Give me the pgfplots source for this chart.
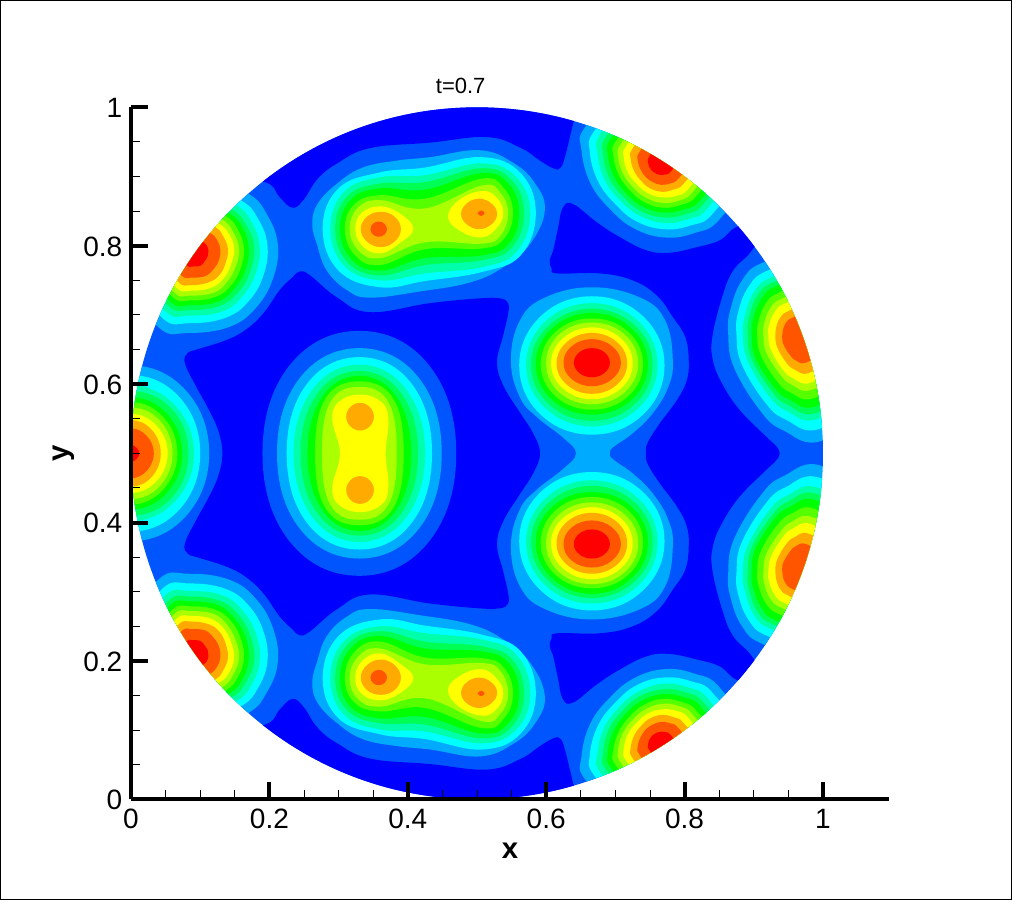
\documentclass[border=0pt]{standalone}
\usepackage{pgfplots}
\pgfplotsset{compat=1.18}
\usepackage{fontspec}
\setmainfont{Liberation Sans}
\definecolor{c0}{RGB}{0,0,255}
\definecolor{c1}{RGB}{0,85,255}
\definecolor{c2}{RGB}{0,170,255}
\definecolor{c3}{RGB}{0,255,255}
\definecolor{c4}{RGB}{0,255,170}
\definecolor{c5}{RGB}{0,255,85}
\definecolor{c6}{RGB}{0,255,0}
\definecolor{c7}{RGB}{85,255,0}
\definecolor{c8}{RGB}{170,255,0}
\definecolor{c9}{RGB}{255,255,0}
\definecolor{c10}{RGB}{255,170,0}
\definecolor{c11}{RGB}{255,85,0}
\definecolor{c12}{RGB}{255,0,0}
\pgfplotsset{band/.style={fill=#1,draw=none,mark=none,smooth cycle,tension=0.7,forget plot}}
\newcommand{\blob}[2]{\addplot[band=#1] coordinates {#2};}
\newcommand{\twin}[2]{\addplot[band=#1] coordinates {#2};\addplot[band=#1,y filter/.expression={1-y}] coordinates {#2};}
\begin{document}
\begin{tikzpicture}[x=1pt,y=1pt]
\draw[black,line width=0.75pt] (0.375,0.375) rectangle (758.625,674.625);
\begin{axis}[
  at={(98.25pt,75.5pt)},anchor=origin,
  scale only axis,width=568.5pt,height=519pt,
  xmin=0,xmax=1.0954,ymin=0,ymax=1,
  axis lines=left,axis line style={-,line width=3pt},
  axis on top,
  xtick={0,0.2,0.4,0.6,0.8,1},ytick={0,0.2,0.4,0.6,0.8,1},
  minor tick num=3,
  tick align=inside,
  major tick length=13pt,minor tick length=7pt,
  every tick/.style={black},
  major tick style={line width=3pt,black},
  minor tick style={line width=0.75pt,black},
  tick label style={font=\fontsize{21}{21}\selectfont},
  xticklabel style={yshift=-4pt},
  yticklabel style={xshift=-3pt,yshift=-0.5pt},
  /pgf/number format/assume math mode=true,
  xlabel={\textbf{x}},ylabel={\textbf{y}},
  xlabel style={font=\fontsize{22}{22}\selectfont,yshift=-3.5pt},
  ylabel style={font=\fontsize{22}{22}\selectfont,yshift=0pt},
  title={t=0.7},title style={font=\fontsize{16.5}{16.5}\selectfont,yshift=1pt,xshift=-37pt},
]
\begin{scope}
\clip (axis cs:0.5,0.5) circle [radius=259.5pt];
\addplot[fill=c1,draw=none,mark=none,forget plot] coordinates {(0,0)(1,0)(1,1)(0,1)} -- cycle;
% dark pockets
\twin{c0}{(.194,.892)(.215,.870)(.233,.855)(.249,.866)(.270,.897)(.298,.919)(.345,.941)(.432,.949)(.514,.957)(.562,.942)(.591,.923)(.610,.912)(.620,.912)(.627,.928)(.639,.977)(.65,1.02)(.4,1.05)(.15,1.0)(.13,.9)}
\blob{c0}{(.132,.5)(.126,.533)(.111,.566)(.095,.595)(.078,.630)(.082,.645)(.095,.650)(.136,.663)(.165,.678)(.191,.702)(.215,.736)(.233,.754)(.244,.763)(.259,.757)(.298,.725)(.345,.704)(.432,.717)(.504,.724)(.533,.724)(.545,.717)(.545,.702)(.538,.671)(.529,.632)(.538,.598)(.562,.559)(.581,.529)(.591,.5)(.581,.471)(.562,.441)(.538,.402)(.529,.368)(.538,.329)(.545,.298)(.545,.283)(.533,.276)(.504,.276)(.432,.283)(.345,.296)(.298,.275)(.259,.243)(.244,.237)(.233,.246)(.215,.264)(.191,.298)(.165,.322)(.136,.337)(.095,.350)(.082,.355)(.078,.370)(.095,.405)(.111,.434)(.126,.467)}
\blob{c0}{(.624,.855)(.639,.860)(.673,.834)(.707,.812)(.746,.793)(.779,.790)(.818,.798)(.851,.808)(.877,.828)(.923,.838)(.897,.793)(.870,.764)(.854,.725)(.840,.668)(.841,.634)(.854,.601)(.880,.562)(.919,.523)(.935,.507)(.935,.493)(.919,.477)(.880,.438)(.854,.399)(.841,.366)(.840,.332)(.854,.275)(.870,.236)(.897,.207)(.923,.162)(.877,.172)(.851,.192)(.818,.202)(.779,.210)(.746,.207)(.707,.188)(.673,.166)(.639,.140)(.624,.145)(.617,.175)(.610,.207)(.605,.221)(.608,.233)(.616,.240)(.678,.240)(.725,.250)(.760,.272)(.783,.303)(.801,.332)(.806,.366)(.803,.395)(.789,.423)(.764,.457)(.747,.484)(.744,.5)(.747,.516)(.764,.543)(.789,.577)(.803,.605)(.806,.634)(.801,.668)(.783,.697)(.760,.728)(.725,.750)(.678,.760)(.616,.760)(.608,.767)(.605,.779)(.610,.793)(.617,.825)}
% central blob G
\blob{c1}{(.470,.5)(.431,.627)(.330,.677)(.229,.627)(.190,.5)(.229,.373)(.330,.323)(.431,.373)}
\blob{c2}{(.449,.5)(.416,.609)(.330,.652)(.244,.609)(.211,.5)(.244,.391)(.330,.348)(.416,.391)}
\blob{c3}{(.435,.5)(.406,.600)(.330,.639)(.254,.600)(.225,.5)(.254,.400)(.330,.361)(.406,.400)}
\blob{c4}{(.425,.5)(.398,.592)(.330,.628)(.262,.592)(.235,.5)(.262,.408)(.330,.372)(.398,.408)}
\blob{c5}{(.415,.5)(.391,.586)(.330,.619)(.269,.586)(.245,.5)(.269,.414)(.330,.381)(.391,.414)}
\blob{c6}{(.405,.5)(.384,.581)(.330,.612)(.276,.581)(.255,.5)(.276,.419)(.330,.388)(.384,.419)}
\blob{c7}{(.394,.5)(.379,.579)(.330,.604)(.281,.579)(.266,.5)(.281,.421)(.330,.396)(.379,.421)}
\blob{c8}{(.384,.5)(.372,.574)(.330,.596)(.288,.574)(.276,.5)(.288,.426)(.330,.404)(.372,.426)}
\blob{c9}{(.331,.585)(.362,.574)(.372,.548)(.368,.5)(.372,.452)(.362,.426)(.331,.415)(.300,.426)(.291,.452)(.302,.5)(.291,.548)(.300,.574)}
\twin{c10}{(.351,.553)(.345,.567)(.331,.573)(.317,.567)(.311,.553)(.317,.539)(.331,.533)(.345,.539)}
% left blob F
\blob{c2}{(.113,.5)(.080,.590)(0,.627)(-.080,.590)(-.113,.5)(-.080,.410)(0,.373)(.080,.410)}
\blob{c3}{(.100,.5)(.071,.580)(0,.613)(-.071,.580)(-.100,.5)(-.071,.420)(0,.387)(.071,.420)}
\blob{c4}{(.091,.5)(.064,.569)(0,.598)(-.064,.569)(-.091,.5)(-.064,.431)(0,.402)(.064,.431)}
\blob{c5}{(.083,.5)(.059,.564)(0,.590)(-.059,.564)(-.083,.5)(-.059,.436)(0,.410)(.059,.436)}
\blob{c6}{(.074,.5)(.052,.557)(0,.581)(-.052,.557)(-.074,.5)(-.052,.443)(0,.419)(.052,.443)}
\blob{c7}{(.067,.5)(.047,.552)(0,.574)(-.047,.552)(-.067,.5)(-.047,.448)(0,.426)(.047,.448)}
\blob{c8}{(.060,.5)(.042,.547)(0,.566)(-.042,.547)(-.060,.5)(-.042,.453)(0,.434)(.042,.453)}
\blob{c9}{(.053,.5)(.037,.540)(0,.557)(-.037,.540)(-.053,.5)(-.037,.460)(0,.443)(.037,.460)}
\blob{c10}{(.043,.5)(.030,.534)(0,.548)(-.030,.534)(-.043,.5)(-.030,.466)(0,.452)(.030,.466)}
\blob{c11}{(.033,.5)(.023,.525)(0,.536)(-.023,.525)(-.033,.5)(-.023,.475)(0,.464)(.023,.475)}
\blob{c12}{(.012,.5)(.008,.508)(0,.512)(-.008,.508)(-.012,.5)(-.008,.492)(0,.488)(.008,.492)}
% neck of the two centre-right blobs
\blob{c2}{(.643,.5)(.624,.523)(.587,.552)(.562,.581)(.549,.634)(.562,.692)(.598,.725)(.666,.740)(.736,.725)(.772,.692)(.783,.634)(.776,.595)(.754,.558)(.725,.529)(.697,.509)(.692,.5)(.697,.491)(.725,.471)(.754,.442)(.776,.405)(.783,.366)(.772,.308)(.736,.275)(.666,.260)(.598,.275)(.562,.308)(.549,.366)(.562,.419)(.587,.448)(.624,.477)}
% blob E
\twin{c3}{(.771,.627)(.740,.698)(.666,.727)(.592,.698)(.561,.627)(.592,.556)(.666,.527)(.740,.556)}
\twin{c4}{(.761,.628)(.733,.691)(.666,.717)(.599,.691)(.571,.628)(.599,.565)(.666,.539)(.733,.565)}
\twin{c5}{(.754,.628)(.728,.685)(.666,.709)(.604,.685)(.578,.628)(.604,.571)(.666,.547)(.728,.571)}
\twin{c6}{(.747,.629)(.723,.681)(.666,.703)(.609,.681)(.585,.629)(.609,.577)(.666,.556)(.723,.577)}
\twin{c7}{(.740,.629)(.718,.676)(.666,.695)(.614,.676)(.592,.629)(.614,.582)(.666,.563)(.718,.582)}
\twin{c8}{(.733,.630)(.713,.672)(.666,.689)(.619,.672)(.600,.630)(.619,.588)(.666,.571)(.713,.588)}
\twin{c9}{(.725,.630)(.708,.666)(.666,.682)(.624,.666)(.607,.630)(.624,.594)(.666,.578)(.708,.594)}
\twin{c10}{(.717,.630)(.702,.661)(.666,.674)(.630,.661)(.615,.630)(.630,.599)(.666,.586)(.702,.599)}
\twin{c11}{(.708,.631)(.695,.655)(.666,.665)(.637,.655)(.625,.631)(.637,.607)(.666,.597)(.695,.607)}
\twin{c12}{(.692,.631)(.684,.646)(.666,.652)(.648,.646)(.640,.631)(.648,.616)(.666,.610)(.684,.616)}
% blob A
\twin{c2}{(.170,.875)(.196,.846)(.212,.803)(.206,.755)(.182,.712)(.143,.683)(.083,.674)(.039,.683)(-.010,.761)(.020,.861)(.110,.901)}
\twin{c3}{(.160,.865)(.183,.840)(.197,.802)(.192,.759)(.171,.721)(.137,.696)(.084,.688)(.045,.696)(.002,.765)(.028,.853)(.108,.888)}
\twin{c4}{(.153,.858)(.174,.835)(.186,.800)(.181,.762)(.162,.728)(.132,.705)(.084,.699)(.050,.705)(.011,.767)(.035,.846)(.106,.878)}
\twin{c5}{(.147,.852)(.166,.831)(.178,.800)(.173,.765)(.156,.734)(.128,.713)(.085,.707)(.054,.713)(.018,.769)(.040,.841)(.104,.870)}
\twin{c6}{(.142,.847)(.160,.828)(.170,.799)(.166,.767)(.150,.739)(.125,.719)(.085,.714)(.057,.719)(.024,.771)(.044,.837)(.103,.864)}
\twin{c7}{(.138,.842)(.154,.824)(.163,.798)(.159,.769)(.145,.743)(.122,.726)(.086,.721)(.060,.726)(.030,.773)(.048,.833)(.102,.857)}
\twin{c8}{(.133,.837)(.147,.821)(.156,.797)(.152,.772)(.139,.748)(.119,.732)(.086,.728)(.063,.732)(.036,.775)(.052,.829)(.101,.850)}
\twin{c9}{(.128,.831)(.141,.818)(.149,.797)(.145,.774)(.134,.753)(.115,.739)(.087,.735)(.066,.739)(.042,.777)(.056,.825)(.100,.844)}
\twin{c10}{(.123,.826)(.133,.814)(.140,.796)(.137,.776)(.128,.758)(.112,.747)(.087,.743)(.069,.747)(.049,.779)(.061,.820)(.098,.836)}
\twin{c11}{(.115,.818)(.124,.809)(.129,.795)(.127,.779)(.119,.766)(.107,.756)(.088,.754)(.074,.756)(.058,.781)(.068,.813)(.096,.826)}
\twin{c12}{(.104,.806)(.109,.801)(.112,.793)(.111,.785)(.106,.777)(.100,.771)(.089,.770)(.081,.771)(.072,.786)(.077,.804)(.094,.811)}
% blob B
\twin{c2}{(.262,.832)(.270,.861)(.298,.890)(.335,.913)(.384,.923)(.432,.928)(.504,.938)(.552,.920)(.584,.890)(.598,.851)(.577,.803)(.538,.769)(.490,.747)(.418,.734)(.345,.725)(.312,.736)(.283,.764)(.269,.801)}
\twin{c3}{(.277,.825)(.300,.883)(.360,.906)(.425,.913)(.507,.928)(.563,.905)(.585,.847)(.563,.786)(.507,.762)(.425,.749)(.360,.740)(.300,.764)}
\twin{c4}{(.288,.825)(.308,.878)(.360,.899)(.425,.902)(.507,.919)(.557,.899)(.577,.847)(.557,.791)(.507,.769)(.425,.760)(.360,.750)(.308,.771)}
\twin{c5}{(.295,.825)(.313,.872)(.360,.890)(.425,.892)(.507,.912)(.551,.894)(.568,.847)(.551,.798)(.507,.779)(.425,.772)(.360,.757)(.313,.776)}
\twin{c6}{(.302,.825)(.318,.867)(.360,.883)(.425,.881)(.507,.905)(.546,.889)(.561,.847)(.546,.803)(.507,.786)(.425,.782)(.360,.764)(.318,.781)}
\twin{c7}{(.309,.825)(.323,.860)(.360,.873)(.425,.868)(.507,.897)(.539,.883)(.552,.847)(.539,.810)(.507,.796)(.425,.795)(.360,.772)(.323,.787)}
\twin{c8}{(.316,.825)(.328,.855)(.360,.866)(.425,.854)(.507,.887)(.534,.876)(.545,.847)(.534,.815)(.507,.803)(.425,.805)(.360,.782)(.328,.794)}
\twin{c9}{(.324,.825)(.334,.848)(.360,.857)(.388,.847)(.408,.825)(.390,.805)(.360,.789)(.334,.800)}
\twin{c9}{(.458,.841)(.474,.866)(.507,.879)(.528,.870)(.538,.847)(.528,.825)(.507,.812)(.478,.820)}
\twin{c10}{(.332,.824)(.341,.842)(.361,.849)(.381,.842)(.390,.824)(.381,.806)(.361,.798)(.341,.806)}
\twin{c10}{(.477,.846)(.485,.861)(.503,.868)(.521,.861)(.529,.846)(.521,.831)(.503,.824)(.485,.831)}
\twin{c11}{(.346,.824)(.350,.832)(.358,.835)(.366,.832)(.370,.824)(.366,.816)(.358,.813)(.350,.816)}
\twin{c11}{(.501,.847)(.506,.851)(.511,.847)(.506,.843)}
% blob C
\twin{c2}{(.656,.971)(.651,.938)(.664,.890)(.693,.852)(.727,.825)(.770,.812)(.813,.818)(.852,.840)(.895,.919)(.825,1.009)(.715,1.029)}
\twin{c3}{(.669,.965)(.663,.936)(.675,.893)(.701,.859)(.731,.835)(.769,.824)(.808,.829)(.842,.848)(.881,.919)(.818,.999)(.720,1.017)}
\twin{c4}{(.678,.961)(.674,.934)(.684,.896)(.707,.865)(.734,.844)(.769,.833)(.804,.838)(.834,.855)(.869,.919)(.813,.991)(.725,1.007)}
\twin{c5}{(.686,.957)(.682,.933)(.691,.898)(.712,.870)(.737,.850)(.769,.841)(.800,.845)(.828,.861)(.860,.919)(.809,.985)(.728,.999)}
\twin{c6}{(.693,.954)(.689,.932)(.698,.900)(.717,.874)(.739,.857)(.768,.848)(.797,.852)(.823,.866)(.851,.919)(.805,.979)(.732,.992)}
\twin{c7}{(.700,.950)(.697,.930)(.705,.902)(.722,.879)(.742,.863)(.768,.855)(.794,.859)(.817,.872)(.842,.919)(.801,.973)(.735,.984)}
\twin{c8}{(.708,.947)(.704,.929)(.711,.904)(.727,.883)(.745,.869)(.768,.862)(.791,.865)(.811,.877)(.834,.919)(.797,.967)(.738,.977)}
\twin{c9}{(.715,.943)(.712,.928)(.718,.906)(.732,.888)(.747,.876)(.767,.870)(.787,.872)(.805,.882)(.825,.919)(.793,.960)(.742,.970)}
\twin{c10}{(.724,.939)(.722,.926)(.727,.908)(.738,.893)(.750,.883)(.767,.878)(.783,.881)(.798,.889)(.814,.919)(.788,.953)(.746,.961)}
\twin{c11}{(.734,.934)(.732,.925)(.736,.911)(.744,.899)(.754,.892)(.766,.888)(.779,.890)(.790,.896)(.803,.919)(.782,.945)(.750,.951)}
\twin{c12}{(.748,.927)(.747,.922)(.749,.914)(.753,.908)(.759,.904)(.766,.902)(.773,.903)(.779,.906)(.786,.919)(.775,.933)(.757,.937)}
% blob D
\twin{c2}{(.914,.776)(.883,.750)(.866,.707)(.863,.673)(.871,.625)(.909,.562)(.943,.533)(1.001,.519)(1.097,.588)(1.097,.718)(.997,.798)}
\twin{c3}{(.920,.764)(.892,.740)(.877,.702)(.875,.672)(.882,.630)(.916,.574)(.946,.549)(.997,.536)(1.082,.597)(1.082,.712)(.994,.783)}
\twin{c4}{(.925,.754)(.900,.733)(.887,.698)(.884,.672)(.891,.634)(.921,.584)(.948,.561)(.994,.550)(1.070,.605)(1.070,.708)(.991,.771)}
\twin{c5}{(.928,.747)(.905,.728)(.893,.696)(.891,.672)(.897,.636)(.925,.591)(.949,.570)(.992,.559)(1.062,.610)(1.062,.705)(.989,.763)}
\twin{c6}{(.931,.741)(.911,.723)(.899,.694)(.897,.671)(.902,.639)(.928,.597)(.951,.578)(.990,.568)(1.054,.614)(1.054,.702)(.987,.755)}
\twin{c7}{(.936,.732)(.917,.716)(.907,.691)(.905,.671)(.910,.642)(.933,.605)(.953,.588)(.987,.580)(1.044,.621)(1.044,.698)(.985,.745)}
\twin{c8}{(.940,.723)(.924,.710)(.915,.688)(.914,.670)(.918,.646)(.938,.614)(.955,.599)(.984,.592)(1.033,.627)(1.033,.694)(.982,.734)}
\twin{c9}{(.944,.716)(.930,.704)(.922,.685)(.921,.670)(.925,.649)(.942,.621)(.956,.609)(.982,.602)(1.024,.633)(1.024,.690)(.980,.725)}
\twin{c10}{(.949,.705)(.938,.696)(.932,.681)(.931,.670)(.934,.653)(.947,.631)(.959,.621)(.979,.616)(1.012,.640)(1.012,.685)(.977,.713)}
\twin{c11}{(.954,.695)(.946,.688)(.942,.678)(.941,.669)(.943,.657)(.953,.641)(.961,.634)(.975,.631)(1.000,.648)(1.000,.681)(.975,.701)}
\end{scope}
\end{axis}
\end{tikzpicture}
\end{document}
